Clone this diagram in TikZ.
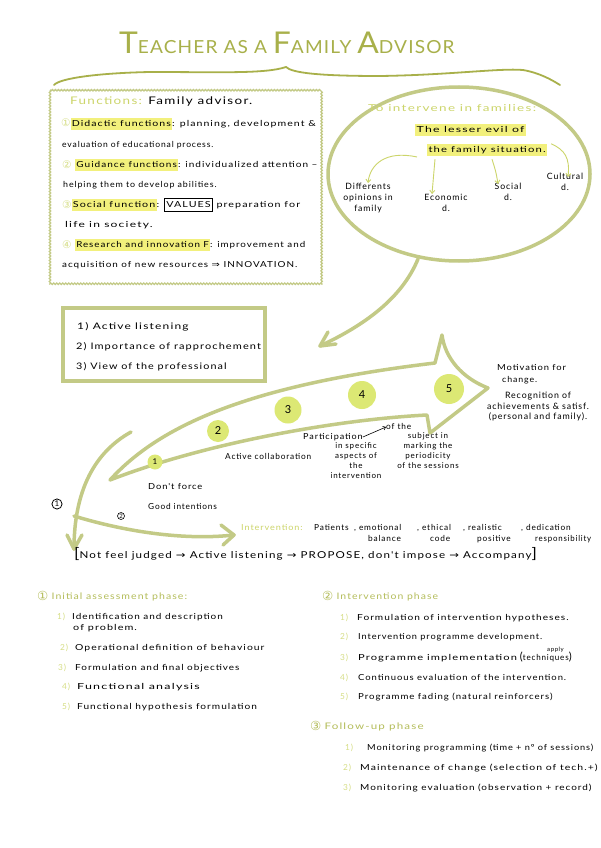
\documentclass[tikz,border=0pt]{standalone}
\usepackage{fontspec}
\setmainfont{Lato}
\newfontfamily\hand[LetterSpace=10]{Lato}
\newfontfamily\titlef[LetterSpace=6]{Lato}
\newfontfamily\sym{DejaVu Sans}
\usetikzlibrary{arrows.meta,decorations.pathmorphing}
\definecolor{olive}{HTML}{A8B04A}
\definecolor{strokec}{HTML}{C3CA86}
\definecolor{lgreen}{HTML}{CCD56A}
\definecolor{phase}{HTML}{B4BD5A}
\definecolor{numg}{HTML}{D6DE86}
\definecolor{hl}{HTML}{F2F07C}
\definecolor{dot}{HTML}{DCE874}
\setlength{\fboxsep}{1pt}
\setlength{\fboxrule}{0.6pt}
\newcommand{\hlt}[1]{\colorbox{hl}{\strut #1}}
\newcommand{\ra}{{\sym →}}
\newcommand{\hs}[2]{\scalebox{#1}[1]{#2}}
\newcommand{\cn}[1]{\raisebox{-1pt}{\sym\fontsize{10.5}{10.5}\selectfont\textcolor{numg}{#1}}}
\newcommand{\pn}[1]{\raisebox{-1.5pt}{\sym\fontsize{12.5}{12.5}\selectfont #1}}
\begin{document}
\begin{tikzpicture}[x=1pt,y=-1pt,
  txt/.style={anchor=west,inner sep=0pt,text height=6pt,text depth=2pt,font=\hand\fontsize{8.3}{10}\selectfont},
  ctxt/.style={anchor=north,inner sep=0pt,align=center,font=\hand\fontsize{8}{10.5}\selectfont},
  num/.style={txt,text=numg},
  thick stroke/.style={draw=strokec,line width=3.5pt,line cap=round,line join=round},
  thinarr/.style={draw=lgreen,line width=0.9pt,-{Straight Barb[length=3pt,width=5pt]}},
  dotc/.style={circle,fill=dot,inner sep=0pt,font=\hand\fontsize{11}{12}\selectfont}
]
\useasboundingbox (0,0) rectangle (600,848);
\fill[white] (0,0) rectangle (600,848);

% ---------- title ----------
\node[anchor=base west,inner sep=0pt,text=olive,font=\titlef] (title) at (119,54)
  {\hs{1.06}{\fontsize{30}{30}\selectfont T\fontsize{18}{18}\selectfont EACHER AS A \fontsize{30}{30}\selectfont F\fontsize{18}{18}\selectfont AMILY \fontsize{30}{30}\selectfont A\fontsize{18}{18}\selectfont DVISOR}};
\draw[olive,line width=1.8pt,line cap=round] (54,85) .. controls (60,78) and (100,73) .. (150,72)
  .. controls (220,72) and (265,74) .. (286,67) .. controls (292,73) and (320,76) .. (380,76)
  .. controls (450,75) and (500,68) .. (523,70) .. controls (540,73) and (552,80) .. (560,85);

% ---------- functions box ----------
\draw[draw=strokec,line width=1.3pt,decorate,decoration={snake,segment length=3pt,amplitude=0.7pt}] (50,90) rectangle (322,284);
\node[txt,font=\hand\fontsize{10.5}{12}\selectfont] (fhead) at (70,103) {\hs{1.28}{\textcolor{lgreen}{Functions:} Family advisor.}};
\node[txt] (f1) at (61,124) {\cn{①}\hs{1.27}{\hlt{Didactic functions}: planning, development \&}};
\node[txt] (f1b) at (62,145) {\hs{1.03}{evaluation of educational process.}};
\node[txt] (f2) at (62,165) {\cn{②}\hs{1.21}{ \hlt{Guidance functions}: individualized attention –}};
\node[txt] (f2b) at (63,185) {\hs{1.07}{helping them to develop abilities.}};
\node[txt] (f3) at (62,205) {\cn{③}\hs{1.29}{\hlt{Social function}: \fbox{\strut VALUES} preparation for}};
\node[txt] (f3b) at (65,225) {\hs{1.45}{life in society.}};
\node[txt] (f4) at (62,245) {\cn{④}\hs{1.18}{ \hlt{Research and innovation F}: improvement and}};
\node[txt] (f4b) at (62,265) {\hs{1.19}{acquisition of new resources {\sym ⇒} INNOVATION.}};

% ---------- ellipse ----------
\draw[draw=strokec,line width=3.5pt] (459,174) ellipse [x radius=131pt,y radius=87pt];
\coordinate (etail) at (418,259);
\coordinate (etip) at (320,346);
\draw[thick stroke] (etail) .. controls (402,298) and (365,325) .. (etip);
\draw[thick stroke] (328,332) -- (etip) -- (336,344);
\node[txt,font=\hand\fontsize{9.5}{11}\selectfont,text=lgreen] (inter) at (368,110) {\hs{1.42}{To intervene in families:}};
\node[txt] (lesser) at (415,130) {\hs{1.48}{\hlt{The lesser evil of}}};
\node[txt] (fam) at (427,150) {\hs{1.36}{\hlt{the family situation.}}};
\node[ctxt,font=\hand\fontsize{8.7}{11}\selectfont] (diff) at (368,183) {Differents\\opinions in\\family};
\node[ctxt,font=\hand\fontsize{8.7}{11}\selectfont] (eco) at (446,194) {Economic\\d.};
\node[ctxt,font=\hand\fontsize{8.7}{10.5}\selectfont] (soc) at (508,183) {Social\\d.};
\node[ctxt,font=\hand\fontsize{8.7}{10.5}\selectfont] (cul) at (565,173) {Cultural\\d.};
\draw[thinarr] ([xshift=-10pt,yshift=-7pt]fam.west) .. controls (385,150) and (370,165) .. (diff.north);
\draw[thinarr] ([xshift=8pt,yshift=-5pt]fam.south west) -- ([xshift=-14pt]eco.north);
\draw[thinarr] ([xshift=65pt,yshift=-5pt]fam.south west) .. controls (496,172) .. ([xshift=-10pt,yshift=-1pt]soc.north);
\draw[thinarr] ([xshift=4pt,yshift=2pt]fam.north east) .. controls (565,150) and (570,158) .. ([xshift=3pt,yshift=-4pt]cul.north);

% ---------- box 2 ----------
\node[draw=strokec,line width=3.5pt,minimum width=202pt,minimum height=73pt,inner sep=0pt] (box2) at (164,344.5) {};
\node[txt,font=\hand\fontsize{9}{11}\selectfont] (b1) at (77,327) {\hs{1.33}{1) Active listening}};
\node[txt,font=\hand\fontsize{9}{11}\selectfont] (b2) at (76,347) {\hs{1.22}{2) Importance of rapprochement}};
\node[txt,font=\hand\fontsize{9}{11}\selectfont] (b3) at (76,367) {\hs{1.2}{3) View of the professional}};

% ---------- big arrow ----------
\draw[thick stroke] (110,480) .. controls (160,425) and (250,385) .. (435,363)
  -- (442,335) .. controls (445,358) and (462,378) .. (488,388)
  -- (430,433) -- (427,415)
  .. controls (330,420) and (200,445) .. cycle;
\node[dotc,minimum size=15pt,font=\hand\fontsize{8}{9}\selectfont] (c1) at (155,462) {1};
\node[dotc,minimum size=22pt] (c2) at (218,431) {2};
\node[dotc,minimum size=27pt] (c3) at (288,410) {3};
\node[dotc,minimum size=28pt] (c4) at (362,395) {4};
\node[dotc,minimum size=30pt] (c5) at (449,389) {5};

\node[txt] (mot1) at (497,368) {\hs{1.13}{Motivation for}};
\node[txt] (mot2) at (502,380) {\hs{1.06}{change.}};
\node[ctxt,font=\hand\fontsize{8.8}{10.5}\selectfont] (recog) at (538,392) {Recognition of\\achievements \& satisf.\\(personal and family).};
\node[txt] (actc) at (225,457) {Active collaboration};
\node[txt] (part) at (303,437) {\hs{1.09}{Participation}};
\node[ctxt,font=\hand\fontsize{8}{10}\selectfont] (part2) at (356,442) {in specific\\aspects of\\the\\intervention};
\node[txt] (ofthe) at (386,427) {of the};
\draw[black,line width=0.6pt,-{Straight Barb[length=2.5pt,width=4pt]}] (part.east) -- (ofthe.west);
\node[ctxt,font=\hand\fontsize{8}{10.3}\selectfont] (subj) at (428,432) {subject in\\marking the\\periodicity\\of the sessions};
\node[txt] (dont) at (148,487) {\hs{1.12}{Don't force}};
\node[txt] (good) at (148,507) {Good intentions};

% ---------- arrows 1 and 2 ----------
\coordinate (a1s) at (131,432);
\coordinate (a1t) at (74,549);
\coordinate (a2s) at (74,516);
\coordinate (a2t) at (234,535);
\draw[thick stroke] (a1s) .. controls (95,452) and (74,490) .. (a1t);
\draw[thick stroke] (67,535) -- (a1t) -- (82,535);
\draw[thick stroke] (a2s) .. controls (120,530) and (180,541) .. (a2t);
\draw[thick stroke] (221,525) -- (a2t) -- (223,545);
\node[circle,draw=black,line width=0.8pt,inner sep=1pt,font=\hand\fontsize{8}{9}\selectfont] (n1) at (57,504) {1};
\node[circle,draw=black,line width=0.6pt,inner sep=0.5pt,font=\hand\fontsize{6}{7}\selectfont] (n2) at (121,516) {2};

% ---------- intervention qualities ----------
\node[txt,text=lgreen] (iv) at (241,528) {\hs{1.1}{Intervention:}};
\node[txt] (q1) at (314,528) {Patients};
\node[txt] (q2) at (354,528) {, emotional};
\node[txt] (q3) at (417,528) {, ethical};
\node[txt] (q4) at (463,528) {, realistic};
\node[txt] (q5) at (521,528) {, dedication};
\node[txt] (q2b) at (368,539) {balance};
\node[txt] (q3b) at (430,539) {code};
\node[txt] (q4b) at (477,539) {positive};
\node[txt] (q5b) at (535,539) {\hs{0.95}{responsibility}};

\node[txt,font=\hand\fontsize{9.5}{11}\selectfont] (seq) at (74,556) {\hs{1.22}{{\Large[}Not feel judged \ra\ Active listening \ra\ PROPOSE, don't impose \ra\ Accompany{\Large]}}};

% ---------- phase 1 ----------
\node[txt,text=phase,font=\hand\fontsize{9}{11}\selectfont] (p1) at (37,597) {\pn{①} \hs{1.17}{Initial assessment phase:}};
\node[num] (p1n1) at (57,617) {1)};
\node[txt] (p1t1) at (72,617) {\hs{1.2}{Identification and description}};
\node[txt] (p1t1b) at (73,628) {\hs{1.3}{of problem.}};
\node[num] (p1n2) at (60,648) {2)};
\node[txt] (p1t2) at (75,648) {\hs{1.25}{Operational definition of behaviour}};
\node[num] (p1n3) at (58,668) {3)};
\node[txt] (p1t3) at (75,668) {\hs{1.2}{Formulation and final objectives}};
\node[num] (p1n4) at (62,687) {4)};
\node[txt] (p1t4) at (77,687) {\hs{1.5}{Functional analysis}};
\node[num] (p1n5) at (62,707) {5)};
\node[txt] (p1t5) at (77,707) {\hs{1.22}{Functional hypothesis formulation}};

% ---------- phase 2 ----------
\node[txt,text=phase,font=\hand\fontsize{9}{11}\selectfont] (p2) at (322,597) {\pn{②} \hs{1.16}{Intervention phase}};
\node[num] (p2n1) at (340,618) {1)};
\node[txt] (p2t1) at (357,618) {\hs{1.22}{Formulation of intervention hypotheses.}};
\node[num] (p2n2) at (340,637) {2)};
\node[txt] (p2t2) at (358,637) {\hs{1.11}{Intervention programme development.}};
\node[num] (p2n3) at (340,658) {3)};
\node[txt] (p2t3) at (358,658) {\hs{1.34}{Programme implementation} {\fontsize{11}{11}\selectfont(}\hs{0.97}{techniques}{\fontsize{11}{11}\selectfont)}};
\node[txt,font=\hand\fontsize{6}{7}\selectfont] (apply) at (547,649) {apply};
\node[num] (p2n4) at (340,678) {4)};
\node[txt] (p2t4) at (358,678) {\hs{1.14}{Continuous evaluation of the intervention.}};
\node[num] (p2n5) at (340,697) {5)};
\node[txt] (p2t5) at (358,697) {\hs{1.16}{Programme fading (natural reinforcers)}};

% ---------- phase 3 ----------
\node[txt,text=phase,font=\hand\fontsize{9}{11}\selectfont] (p3) at (310,727) {\pn{③} \hs{1.29}{Follow-up phase}};
\node[num] (p3n1) at (345,748) {1)};
\node[txt] (p3t1) at (367,748) {\hs{1.11}{Monitoring programming (time + nº of sessions)}};
\node[num] (p3n2) at (343,768) {2)};
\node[txt] (p3t2) at (360,768) {\hs{1.26}{Maintenance of change (selection of tech.+)}};
\node[num] (p3n3) at (343,788) {3)};
\node[txt] (p3t3) at (360,788) {\hs{1.2}{Monitoring evaluation (observation + record)}};
\end{tikzpicture}
\end{document}
